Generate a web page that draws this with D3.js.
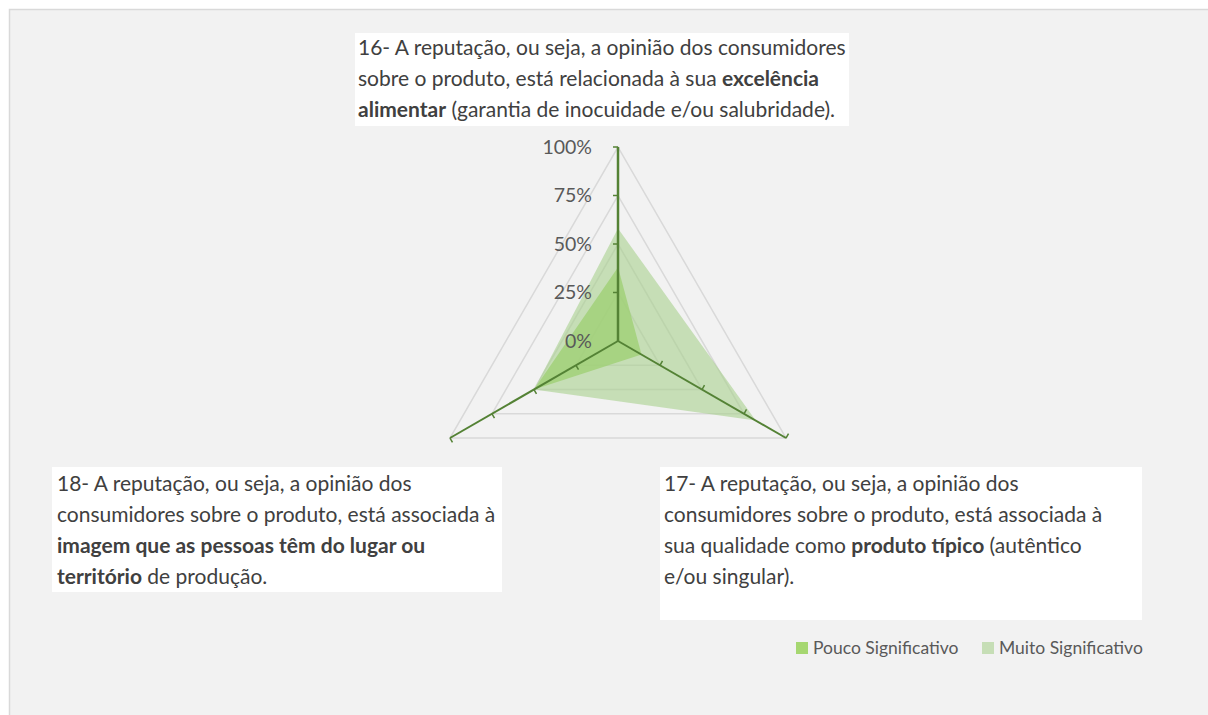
<!DOCTYPE html>
<html>
<head>
<meta charset="utf-8">
<script src="https://cdn.jsdelivr.net/npm/d3@7"></script>
<style>
  body { margin: 0; background: #ffffff; }
  svg { display: block; font-family: Lato, "Open Sans", sans-serif; }
</style>
</head>
<body>
<div id="container"></div>
<script>
let w = 1208;
let h = 715;

// the three statements (axes), clockwise from the top
let axisNames = ["16", "17", "18"];
let seriesNames = ["Pouco Significativo", "Muito Significativo"];
let poucoValues = [0.38, 0.14, 0.50];
let muitoValues = [0.58, 0.82, 0.50];
let tickValues = [0, 0.25, 0.5, 0.75, 1];

// label text, each line is a list of [text, bold]
let label16 = [
  [["16- A reputação, ou seja, a opinião dos consumidores", false]],
  [["sobre o produto, está relacionada à sua ", false], ["excelência", true]],
  [["alimentar", true], [" (garantia de inocuidade e/ou salubridade).", false]]
];
let label17 = [
  [["17- A reputação, ou seja, a opinião dos", false]],
  [["consumidores sobre o produto, está associada à", false]],
  [["sua qualidade como ", false], ["produto típico", true], [" (autêntico", false]],
  [["e/ou singular).", false]]
];
let label18 = [
  [["18- A reputação, ou seja, a opinião dos", false]],
  [["consumidores sobre o produto, está associada à", false]],
  [["imagem que as pessoas têm do lugar ou", true]],
  [["território", true], [" de produção.", false]]
];

let viz = d3.select("#container")
  .append("svg")
    .attr("width", w)
    .attr("height", h);

// chart area
viz.append("rect")
  .attr("x", 9.5).attr("y", 9.5)
  .attr("width", 1220).attr("height", 720)
  .attr("fill", "#f2f2f2")
  .attr("stroke", "#d9d9d9")
  .attr("stroke-width", 1.5);

// radar geometry
let cx = 618;
let cy = 341;
let rScale = d3.scaleLinear().domain([0, 1]).range([0, 194]);
let angleScale = d3.scaleLinear().domain([0, axisNames.length]).range([0, 2 * Math.PI]);

let radar = viz.append("g").attr("transform", "translate(" + cx + "," + cy + ")");

let radialLine = d3.lineRadial()
  .angle(function(d, i){ return angleScale(i); })
  .radius(function(d){ return rScale(d); })
  .curve(d3.curveLinearClosed);

// gridlines (triangles)
radar.selectAll(".grid")
  .data(tickValues.filter(function(t){ return t > 0; }))
  .enter().append("path")
    .attr("class", "grid")
    .attr("d", function(t){ return radialLine(axisNames.map(function(){ return t; })); })
    .attr("fill", "none")
    .attr("stroke", "#d9d9d9")
    .attr("stroke-width", 1.5);

// series areas
let seriesData = [
  {name: seriesNames[0], values: poucoValues, fill: "#92d050", opacity: 0.8},
  {name: seriesNames[1], values: muitoValues, fill: "#a9d18e", opacity: 0.6}
];

radar.selectAll(".series")
  .data(seriesData)
  .enter().append("path")
    .attr("class", "series")
    .attr("d", function(d){ return radialLine(d.values); })
    .attr("fill", function(d){ return d.fill; })
    .attr("fill-opacity", function(d){ return d.opacity; })
    .attr("stroke", "none");

// spokes with their tick marks
let tickLen = 5;
axisNames.forEach(function(name, i){
  let a = angleScale(i);
  let dx = Math.sin(a), dy = -Math.cos(a);
  radar.append("line")
    .attr("x1", 0).attr("y1", 0)
    .attr("x2", dx * rScale(1)).attr("y2", dy * rScale(1))
    .attr("stroke", "#548235")
    .attr("stroke-width", i == 0 ? 2.5 : 2);
  tickValues.filter(function(t){ return t > 0; }).forEach(function(t){
    let px = dx * rScale(t), py = dy * rScale(t);
    radar.append("line")
      .attr("x1", px).attr("y1", py)
      .attr("x2", px + dy * tickLen).attr("y2", py - dx * tickLen)
      .attr("stroke", "#548235")
      .attr("stroke-width", 1.5);
  });
});

// value axis labels
radar.selectAll(".tickLabel")
  .data(tickValues)
  .enter().append("text")
    .attr("class", "tickLabel")
    .attr("x", -26)
    .attr("y", function(t){ return -rScale(t); })
    .attr("dy", "0.35em")
    .attr("text-anchor", "end")
    .attr("font-size", 19.5)
    .attr("fill", "#595959")
    .text(d3.format(".0%"));

// category label boxes
function drawLabel(lines, box, tx, firstBaseline){
  let g = viz.append("g");
  g.append("rect")
    .attr("x", box[0]).attr("y", box[1])
    .attr("width", box[2]).attr("height", box[3])
    .attr("fill", "#ffffff");
  lines.forEach(function(line, li){
    let t = g.append("text")
      .attr("x", tx)
      .attr("y", firstBaseline + li * 31)
      .attr("font-size", 21)
      .attr("fill", "#404040");
    line.forEach(function(seg){
      t.append("tspan")
        .attr("font-weight", seg[1] ? "bold" : "normal")
        .text(seg[0]);
    });
  });
}

drawLabel(label16, [355, 33, 494, 93], 358, 55);
drawLabel(label18, [52, 467, 450, 125], 57, 491);
drawLabel(label17, [660, 467, 482, 153], 664, 491);

// legend
let legendX = [796, 982];
let legend = viz.selectAll(".legend")
  .data(seriesData)
  .enter().append("g")
    .attr("class", "legend")
    .attr("transform", function(d, i){ return "translate(" + legendX[i] + ",642)"; });

legend.append("rect")
  .attr("width", 12).attr("height", 12)
  .attr("fill", function(d){ return d.fill; })
  .attr("fill-opacity", function(d){ return d.opacity; });

legend.append("text")
  .attr("x", 17)
  .attr("y", 6)
  .attr("dy", "0.35em")
  .attr("font-size", 17.5)
  .attr("fill", "#595959")
  .text(function(d){ return d.name; });
</script>
</body>
</html>
